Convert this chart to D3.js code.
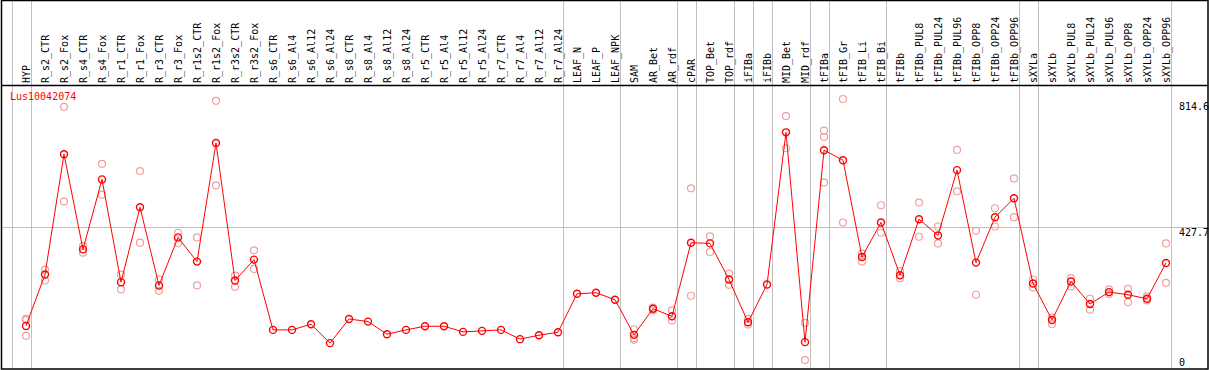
<!DOCTYPE html>
<html>
<head>
<meta charset="utf-8">
<script src="https://cdn.jsdelivr.net/npm/d3@7"></script>
<style>
  body { margin: 0; background: #fff; }
  svg text { font-family: "DejaVu Sans Mono", monospace; font-size: 10px; }
</style>
</head>
<body>
<svg id="chart" width="1209" height="370"></svg>
<script>
const geneId = "Lus10042074";

const columns = [
  "HYP", "R_s2_CTR", "R_s2_Fox", "R_s4_CTR", "R_s4_Fox", "R_r1_CTR", "R_r1_Fox",
  "R_r3_CTR", "R_r3_Fox", "R_r1s2_CTR", "R_r1s2_Fox", "R_r3s2_CTR", "R_r3s2_Fox",
  "R_s6_CTR", "R_s6_Al4", "R_s6_Al12", "R_s6_Al24", "R_s8_CTR", "R_s8_Al4",
  "R_s8_Al12", "R_s8_Al24", "R_r5_CTR", "R_r5_Al4", "R_r5_Al12", "R_r5_Al24",
  "R_r7_CTR", "R_r7_Al4", "R_r7_Al12", "R_r7_Al24", "LEAF_N", "LEAF_P", "LEAF_NPK",
  "SAM", "AR_Bet", "AR_rdf", "cPAR", "TOP_Bet", "TOP_rdf", "iFIBa", "iFIBb",
  "MID_Bet", "MID_rdf", "tFIBa", "tFIB_Gr", "tFIB_Li", "tFIB_Bi", "tFIBb",
  "tFIBb_PUL8", "tFIBb_PUL24", "tFIBb_PUL96", "tFIBb_OPP8", "tFIBb_OPP24", "tFIBb_OPP96",
  "sXYLa", "sXYLb", "sXYLb_PUL8", "sXYLb_PUL24", "sXYLb_PUL96", "sXYLb_OPP8",
  "sXYLb_OPP24", "sXYLb_OPP96"
];

const means = [
  130, 285, 648, 361, 572, 262, 488,
  252, 397, 324, 682, 267, 330,
  118, 118, 135, 78, 151, 143,
  105, 118, 129, 129, 112, 115,
  118, 90, 102, 111, 227, 230, 209,
  103, 182, 159, 381, 379, 270, 141, 255,
  714, 81, 660, 630, 338, 442, 283,
  452, 403, 600, 321, 458, 515,
  258, 148, 264, 196, 232, 224,
  212, 320
];

const replicates = [
  [151, 148, 100], [300, 267], [791, 505], [371, 351], [619, 526], [285, 240], [597, 381],
  [270, 236], [411, 380], [397, 252], [809, 554], [282, 248], [358, 302],
  [], [], [], [], [], [],
  [], [], [], [], [], [],
  [], [], [], [], [], [], [],
  [120, 93, 88], [185, 177], [177, 146], [545, 221], [400, 353], [288, 254], [151, 134], [],
  [763, 666], [139, 27], [719, 700, 563], [814.6, 442], [349, 324], [494, 411], [295, 274],
  [502, 399], [430, 379], [661, 536], [417, 224], [485, 430], [575, 458],
  [270, 246], [155, 135], [274, 249], [212, 179], [240, 226], [242, 202],
  [219, 207], [379, 260]
];

// group separators are drawn just after these columns
const separatorsAfter = [
  "HYP", "R_r7_Al24", "LEAF_NPK", "AR_rdf", "cPAR", "TOP_rdf", "iFIBa", "iFIBb",
  "MID_rdf", "tFIBa", "tFIB_Bi", "tFIBb_OPP96", "sXYLa", "sXYLb_OPP96"
];

const svg = d3.select("#chart");
const width = 1209;
const headerBottom = 85.5;
const plotBottom = 369;

const x = d3.scalePoint().domain(columns).range([26, 1166]);
const step = x.step();

const maxVal = d3.max([...means, ...replicates.flat()]);
const y = d3.scaleLinear()
  .domain([0, maxVal * 1.05])
  .range([plotBottom, headerBottom]);

const grid = svg.append("g").attr("stroke", "#c0c0c0").attr("stroke-width", 1);

// vertical separators
const sepX = [x(columns[0]) - step + 4.5, ...separatorsAfter.map(c => x(c) + 4.5)];
grid.selectAll("line.v")
  .data(sepX)
  .join("line")
  .attr("class", "v")
  .attr("x1", d => Math.round(d) + 0.5)
  .attr("x2", d => Math.round(d) + 0.5)
  .attr("y1", 0)
  .attr("y2", plotBottom);

// horizontal midline
const mid = y.domain()[1] / 2;
grid.append("line")
  .attr("x1", 1)
  .attr("x2", width - 1)
  .attr("y1", Math.round(y(mid)) + 0.5)
  .attr("y2", Math.round(y(mid)) + 0.5);

// column labels
svg.append("g")
  .selectAll("text")
  .data(columns)
  .join("text")
  .attr("transform", d => `translate(${x(d) + 3.5}, 83) rotate(-90)`)
  .attr("fill", "#000")
  .text(d => d);

// replicate points
const repData = [];
columns.forEach((c, i) => replicates[i].forEach(v => repData.push({ c, v })));
svg.append("g")
  .selectAll("circle")
  .data(repData)
  .join("circle")
  .attr("cx", d => x(d.c))
  .attr("cy", d => y(d.v))
  .attr("r", 3.5)
  .attr("fill", "none")
  .attr("stroke", "#f0a0a0")
  .attr("stroke-width", 1.2);

// mean line
const line = d3.line()
  .x((d, i) => x(columns[i]))
  .y(d => y(d));

svg.append("path")
  .attr("d", line(means))
  .attr("fill", "none")
  .attr("stroke", "#ff0000")
  .attr("stroke-width", 1);

// mean points
svg.append("g")
  .selectAll("circle")
  .data(means)
  .join("circle")
  .attr("cx", (d, i) => x(columns[i]))
  .attr("cy", d => y(d))
  .attr("r", 3.5)
  .attr("fill", "none")
  .attr("stroke", "#ff0000")
  .attr("stroke-width", 1.4);

// gene id
svg.append("text")
  .attr("x", 10)
  .attr("y", 100)
  .attr("fill", "#ff0000")
  .text(geneId);

// value labels on the right
const axisX = 1179;
svg.append("text").attr("x", axisX).attr("y", y(maxVal) + 11).text(maxVal.toFixed(1));
svg.append("text").attr("x", axisX).attr("y", y(mid) + 9).text(mid.toFixed(1));
svg.append("text").attr("x", axisX).attr("y", plotBottom - 3).text("0");

// frame
svg.append("rect")
  .attr("x", 1.5)
  .attr("y", 0.5)
  .attr("width", width - 2.5)
  .attr("height", plotBottom - 0.5)
  .attr("fill", "none")
  .attr("stroke", "#000")
  .attr("stroke-width", 1.5);

svg.append("line")
  .attr("x1", 1)
  .attr("x2", width - 1)
  .attr("y1", headerBottom)
  .attr("y2", headerBottom)
  .attr("stroke", "#000")
  .attr("stroke-width", 1.5);
</script>
</body>
</html>
